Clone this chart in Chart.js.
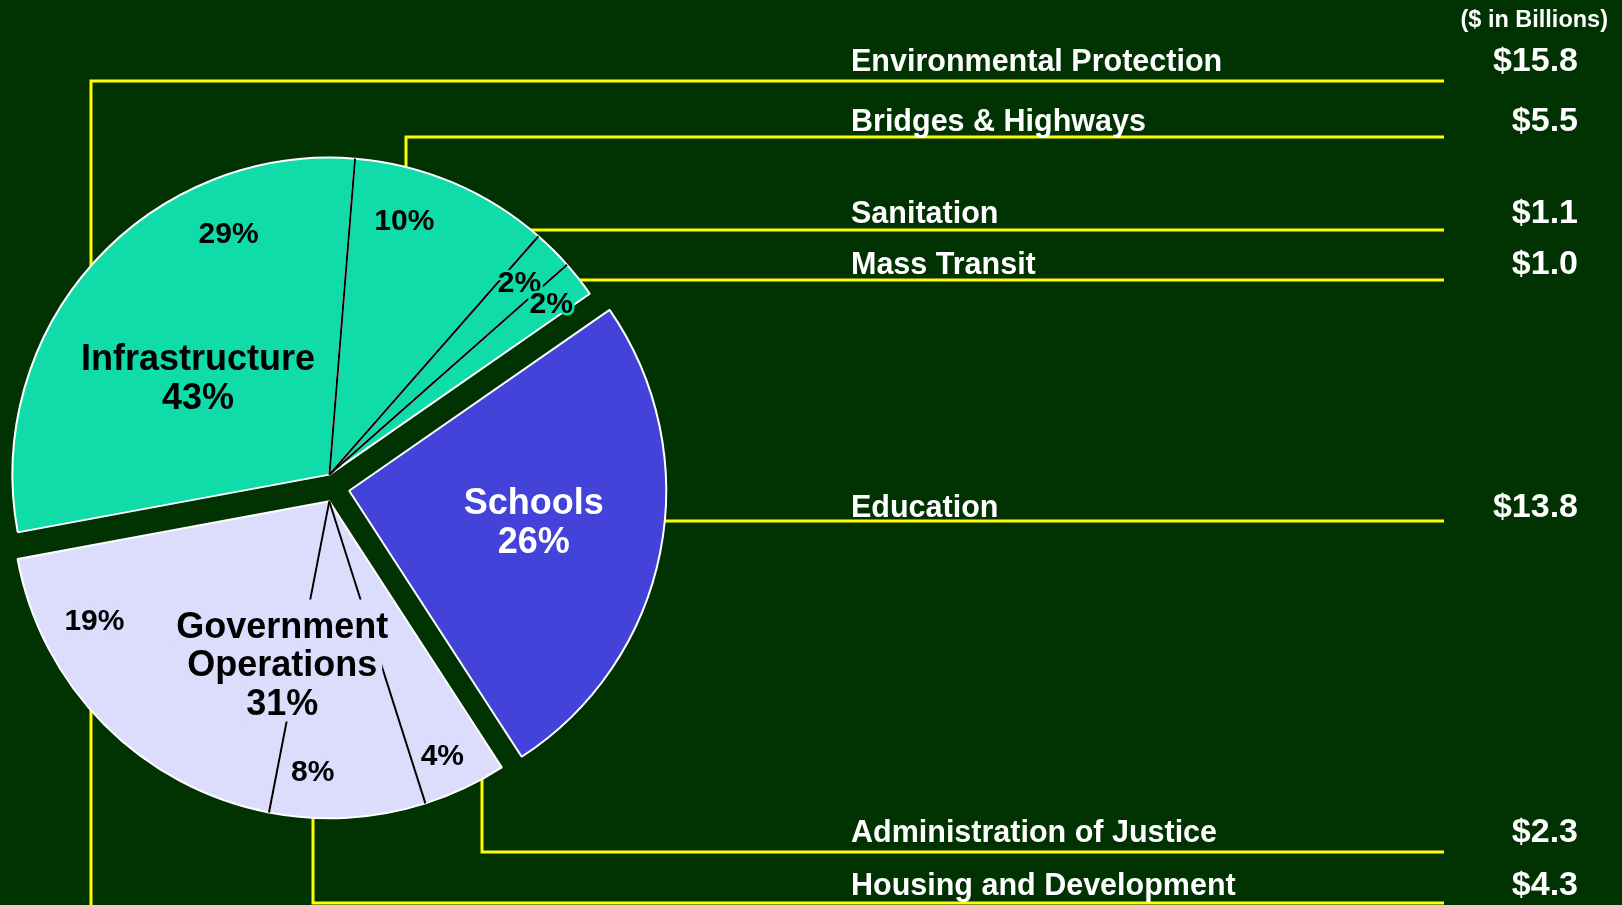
<!DOCTYPE html>
<html>
<head>
<meta charset="utf-8">
<title>Capital Program by Function</title>
<script src="https://cdn.jsdelivr.net/npm/chart.js@4.4.1/dist/chart.umd.min.js"></script>
<style>
  html, body { margin: 0; padding: 0; background: #013201; }
  #wrap { position: relative; width: 1622px; height: 905px; }
</style>
</head>
<body>
<div id="wrap"><canvas id="chart"></canvas></div>
<script>
// ---- data ----
const categories = ['Environmental Protection', 'Bridges & Highways', 'Sanitation', 'Mass Transit',
                    'Education', 'Administration of Justice', 'Housing and Development', 'Other City Operations'];
const values = [15.8, 5.5, 1.1, 1.0, 13.8, 2.3, 4.3, 10.3];            // $ in billions
const valueLabels = ['$15.8', '$5.5', '$1.1', '$1.0', '$13.8', '$2.3', '$4.3', ''];
const groups = ['Infrastructure', 'Infrastructure', 'Infrastructure', 'Infrastructure',
                'Schools', 'Government Operations', 'Government Operations', 'Government Operations'];
const groupNames = ['Infrastructure', 'Schools', 'Government Operations'];
const groupTitleLines = [['Infrastructure'], ['Schools'], ['Government', 'Operations']];
const groupPercents = ['43%', '26%', '31%'];
const slicePercents = ['29%', '10%', '2%', '2%', '26%', '4%', '8%', '19%'];
const unitLabel = '($ in Billions)';

// ---- styling & layout ----
const FONT = '"Liberation Sans", Arial, sans-serif';
const STYLE = {
  center: { x: 335, y: 488 },
  radius: 317,
  explode: 14.5,
  rotation: 259.5,
  fill: { 'Infrastructure': '#10dcaa', 'Schools': '#4343d9', 'Government Operations': '#dcdcfc' },
  groupInk: { 'Infrastructure': '#000000', 'Schools': '#ffffff', 'Government Operations': '#000000' },
  groupLabelPos: { 'Infrastructure': { angle: 216.7, r: 0.517 },
                   'Schools': { angle: 9.2, r: 0.59 },
                   'Government Operations': { angle: 106.2, r: 0.532 } },
  groupFontSize: 36,
  groupLineGap: 38.5,
  sliceFontSize: 30,
  // t = position across the slice's sweep, r = fraction of the radius
  sliceLabelPos: [ { t: 0.741, r: 0.828 }, { t: 0.32, r: 0.839 }, { t: 0.45, r: 0.855 }, { t: 0.55, r: 0.885 },
                   null, { t: 0.578, r: 0.873 }, { t: 0.74, r: 0.849 }, { t: 0.764, r: 0.829 } ],
  rows: [ { base: 70.7,  lineY: 81,  elbowX: 91 },
          { base: 130.7, lineY: 137, elbowX: 406 },
          { base: 223.3, lineY: 230 },
          { base: 274,   lineY: 280 },
          { base: 517.3, lineY: 521 },
          { base: 841.7, lineY: 852, elbowX: 482 },
          { base: 895,   lineY: 903, elbowX: 313 },
          { base: 950,   lineY: 960, elbowX: 91 } ],
  leaderColor: '#ffff00',
  leaderWidth: 3,
  lineEndX: 1444,
  textX: 851,
  valueX: 1578,
  rowFontSize: 30.5,
  valueFontSize: 34,
  unitFontSize: 23.5,
  unitX: 1608,
  unitBase: 27
};

const DEG = Math.PI / 180;
const groupIndices = g => groups.map((x, i) => x === g ? i : -1).filter(i => i >= 0);

function textAtMid(ctx, text, x, midY, size, halo) {
  ctx.font = 'bold ' + size + 'px ' + FONT;
  const y = midY + 0.358 * size;
  if (halo) {
    ctx.save();
    ctx.strokeStyle = halo;
    ctx.lineWidth = 5;
    ctx.lineJoin = 'round';
    ctx.strokeText(text, x, y);
    ctx.restore();
  }
  ctx.fillText(text, x, y);
}

const capitalPie = {
  id: 'capitalPie',
  beforeDatasetsDraw(chart) {
    const arcs = chart.getDatasetMeta(0).data;
    const ca = chart.chartArea;
    const cx = (ca.left + ca.right) / 2, cy = (ca.top + ca.bottom) / 2;

    // pull each function group out along its own bisector
    groupNames.forEach(g => {
      const idx = groupIndices(g);
      const mid = (arcs[idx[0]].startAngle + arcs[idx[idx.length - 1]].endAngle) / 2;
      idx.forEach(i => {
        arcs[i].x = cx + STYLE.explode * Math.cos(mid);
        arcs[i].y = cy + STYLE.explode * Math.sin(mid);
      });
    });

    // leader lines, tucked under the slices
    const ctx = chart.ctx;
    ctx.save();
    ctx.strokeStyle = STYLE.leaderColor;
    ctx.lineWidth = STYLE.leaderWidth;
    ctx.lineJoin = 'miter';
    categories.forEach((c, i) => {
      const arc = arcs[i], row = STYLE.rows[i];
      const rr = arc.outerRadius * 0.95;
      ctx.beginPath();
      if (row.elbowX !== undefined) {
        const dx = row.elbowX - arc.x;
        const dy = Math.sqrt(Math.max(rr * rr - dx * dx, 0)) * Math.sign(row.lineY - arc.y);
        ctx.moveTo(row.elbowX, arc.y + dy);
        ctx.lineTo(row.elbowX, row.lineY);
      } else {
        const dy = row.lineY - arc.y;
        ctx.moveTo(arc.x + Math.sqrt(Math.max(rr * rr - dy * dy, 0)), row.lineY);
      }
      ctx.lineTo(STYLE.lineEndX, row.lineY);
      ctx.stroke();
    });
    ctx.restore();
  },

  afterDatasetsDraw(chart) {
    const arcs = chart.getDatasetMeta(0).data;
    const ctx = chart.ctx;
    ctx.save();

    // thin black dividers between functions inside a group
    ctx.strokeStyle = '#000000';
    ctx.lineWidth = 2;
    for (let i = 1; i < arcs.length; i++) {
      if (groups[i] !== groups[i - 1]) continue;
      const a = arcs[i];
      ctx.beginPath();
      ctx.moveTo(a.x, a.y);
      ctx.lineTo(a.x + a.outerRadius * Math.cos(a.startAngle), a.y + a.outerRadius * Math.sin(a.startAngle));
      ctx.stroke();
    }

    // percentage of each function
    ctx.textAlign = 'center';
    ctx.fillStyle = '#000000';
    arcs.forEach((a, i) => {
      const p = STYLE.sliceLabelPos[i];
      if (!p) return;
      const ang = a.startAngle + p.t * (a.endAngle - a.startAngle);
      const r = p.r * a.outerRadius;
      textAtMid(ctx, slicePercents[i], a.x + r * Math.cos(ang), a.y + r * Math.sin(ang),
                STYLE.sliceFontSize, STYLE.fill[groups[i]]);
    });

    // group titles with their share
    groupNames.forEach((g, gi) => {
      const a = arcs[groupIndices(g)[0]];
      const pos = STYLE.groupLabelPos[g];
      const r = pos.r * a.outerRadius;
      const x = a.x + r * Math.cos(pos.angle * DEG);
      const y = a.y + r * Math.sin(pos.angle * DEG);
      const lines = groupTitleLines[gi].concat([groupPercents[gi]]);
      const gap = STYLE.groupLineGap;
      const top = y - gap * (lines.length - 1) / 2;
      ctx.font = 'bold ' + STYLE.groupFontSize + 'px ' + FONT;
      ctx.fillStyle = STYLE.fill[g];
      lines.forEach((t, k) => {
        const w = ctx.measureText(t).width + 10;
        const my = top + k * gap;
        const extra = k === 0 ? 6 : 0;
        ctx.fillRect(x - w / 2, my - gap / 2 - extra, w, gap + extra + 0.5);
      });
      ctx.fillStyle = STYLE.groupInk[g];
      lines.forEach((t, k) => textAtMid(ctx, t, x, top + k * gap, STYLE.groupFontSize));
    });

    // table of functions and amounts
    ctx.fillStyle = '#ffffff';
    ctx.textAlign = 'right';
    ctx.font = 'bold ' + STYLE.unitFontSize + 'px ' + FONT;
    ctx.fillText(unitLabel, STYLE.unitX, STYLE.unitBase);
    categories.forEach((c, i) => {
      const row = STYLE.rows[i];
      ctx.textAlign = 'left';
      ctx.font = 'bold ' + STYLE.rowFontSize + 'px ' + FONT;
      ctx.fillText(c, STYLE.textX, row.base);
      ctx.textAlign = 'right';
      ctx.font = 'bold ' + STYLE.valueFontSize + 'px ' + FONT;
      ctx.fillText(valueLabels[i], STYLE.valueX, row.base);
    });
    ctx.restore();
  }
};

const W = 1622, H = 905;
new Chart(document.getElementById('chart'), {
  type: 'pie',
  data: {
    labels: categories,
    datasets: [{
      data: values,
      backgroundColor: groups.map(g => STYLE.fill[g]),
      borderColor: '#ffffff',
      borderWidth: 2,
      hoverOffset: 0,
      offset: 0
    }]
  },
  options: {
    responsive: true,
    maintainAspectRatio: false,
    animation: false,
    events: [],
    rotation: STYLE.rotation,
    radius: STYLE.radius,
    layout: { padding: { left: 0, top: 2 * STYLE.center.y - H, right: W - 2 * STYLE.center.x, bottom: 0 } },
    plugins: { legend: { display: false }, tooltip: { enabled: false } }
  },
  plugins: [capitalPie]
});
</script>
</body>
</html>
